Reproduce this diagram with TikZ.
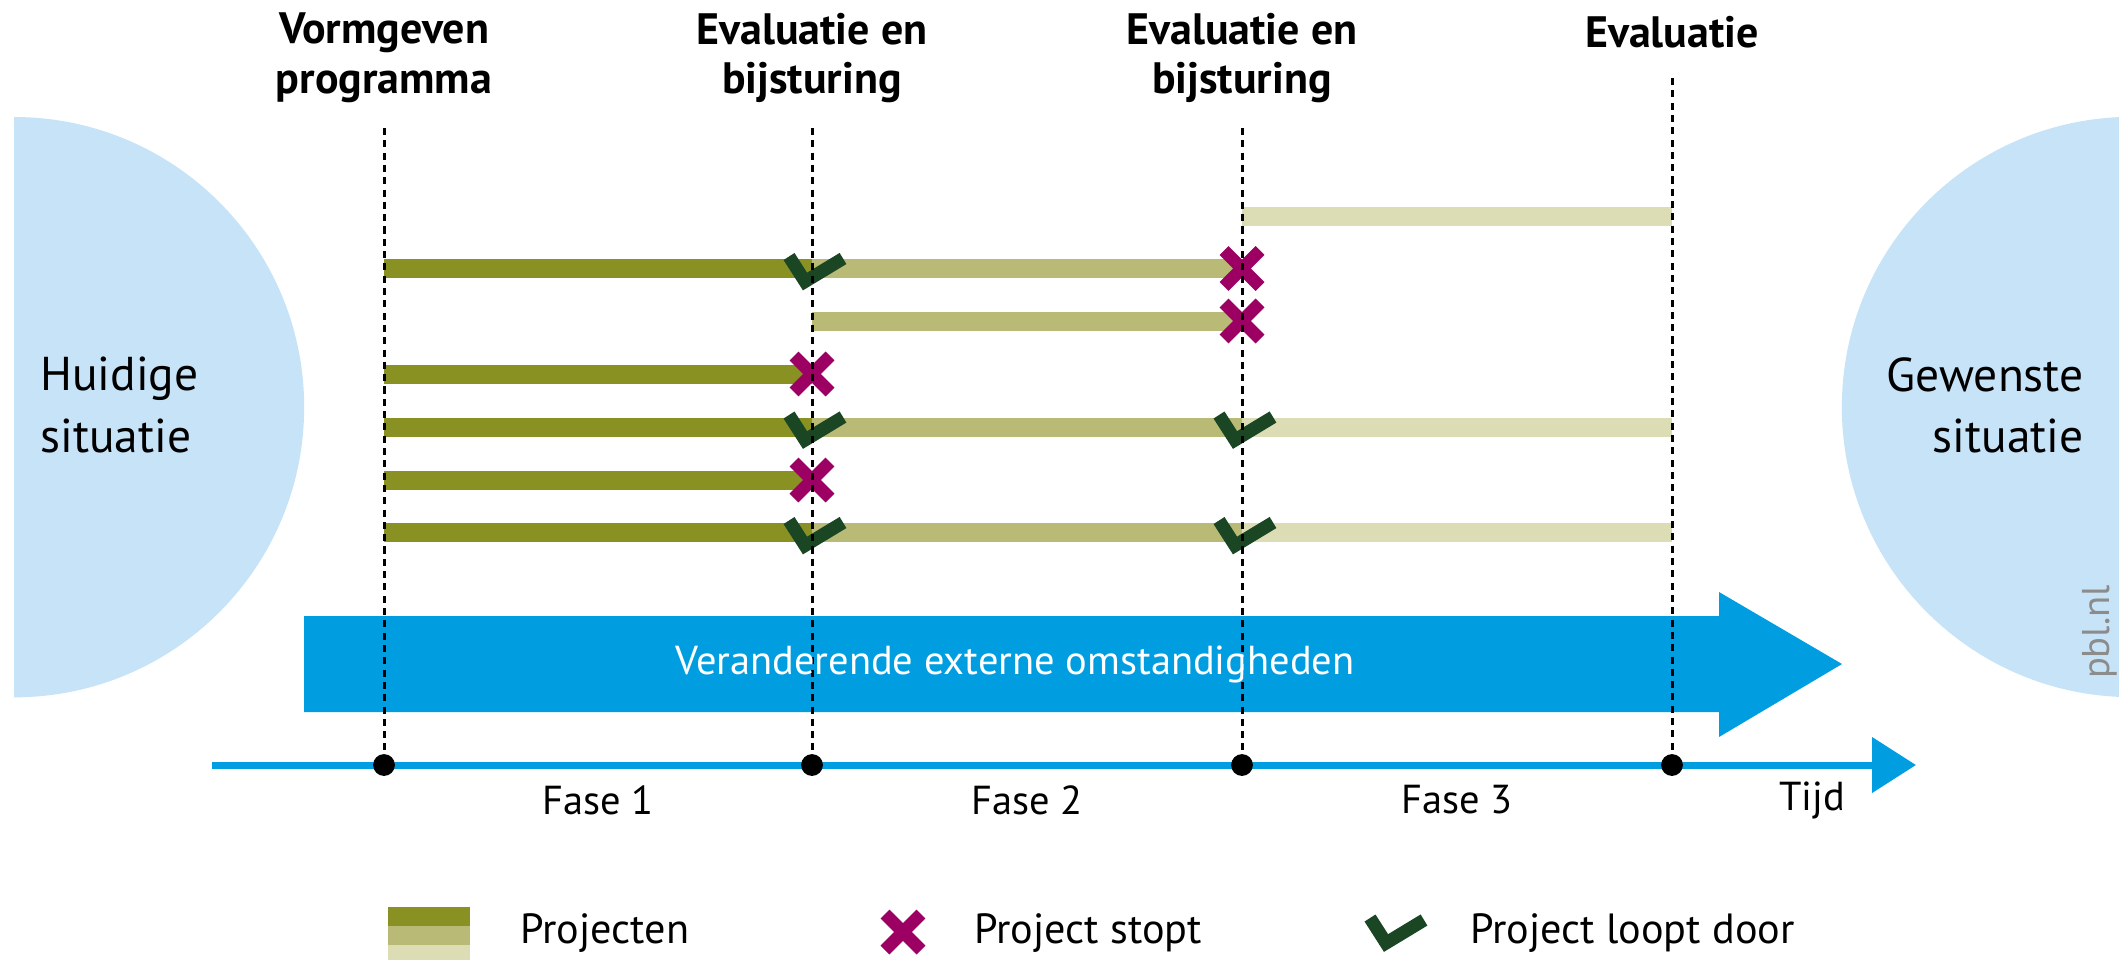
\documentclass[tikz,border=0pt]{standalone}
\usepackage{fontspec}
\setmainfont{PT Sans}
\usetikzlibrary{arrows.meta, positioning, calc}

\definecolor{projdark}{HTML}{8A9123}
\definecolor{projmid}{HTML}{B8BA75}
\definecolor{projlight}{HTML}{DCDDB5}
\definecolor{stopred}{HTML}{9B0062}
\definecolor{goongreen}{HTML}{1B4624}
\definecolor{pblblue}{HTML}{009EE0}
\definecolor{situblue}{HTML}{C7E3F7}

\tikzset{
  bar/.style={line width=5.4pt},
  guide/.style={black, line width=0.85pt, dash pattern=on 2pt off 1.5pt},
  tdot/.style={circle, fill=black, inner sep=0pt, minimum size=6.2pt},
  toplabel/.style={font=\fontsize{12.5}{14.2}\selectfont\bfseries, align=center},
  phase/.style={font=\fontsize{11.5}{13}\selectfont},
  situ/.style={font=\fontsize{13.5}{17.4}\selectfont},
  legend/.style={font=\fontsize{12}{14}\selectfont, anchor=west},
  stopcross/.pic={
    \draw[stopred, line width=3.6pt] (-18,-18) -- (18,18) (-18,18) -- (18,-18);
  },
  goontick/.pic={
    \draw[goongreen, line width=3.7pt, miter limit=4] (-23,-12) -- (-7,13) -- (31,-10);
  }
}

\begin{document}
\begin{tikzpicture}[x=0.01cm, y=-0.01cm]
\useasboundingbox (0,0) rectangle (2119,960);

% Situations (half discs)
\fill[situblue] (14,117) arc[start angle=90, end angle=-90, radius=2.9cm] -- cycle;
\begin{scope}
  \clip (0,0) rectangle (2119,960);
  \fill[situblue] (2132,407) circle[radius=2.9cm];
\end{scope}
\node[situ, align=left, anchor=west] (now) at (28,405) {Huidige\\situatie};
\node[situ, align=right, anchor=east] (goal) at (2096,405) {Gewenste\\situatie};
\node[rotate=90, text=black!45, font=\fontsize{11}{13}\selectfont] (pbl) at (2100,632) {pbl.nl};

% External circumstances
\fill[pblblue] (304,616) -- (1719,616) -- (1719,592) -- (1842,664)
  -- (1719,737) -- (1719,712) -- (304,712) -- cycle;

% Projects
\draw[bar, projlight] (1242,216) -- (1672,216);
\draw[bar, projdark] (384,268.5) -- (812,268.5);
\draw[bar, projmid] (812,268.5) -- (1242,268.5);
\draw[bar, projmid] (812,321) -- (1242,321);
\draw[bar, projdark] (384,374) -- (812,374);
\draw[bar, projdark] (384,427) -- (812,427);
\draw[bar, projmid] (812,427) -- (1242,427);
\draw[bar, projlight] (1242,427) -- (1672,427);
\draw[bar, projdark] (384,480) -- (812,480);
\draw[bar, projdark] (384,532.5) -- (812,532.5);
\draw[bar, projmid] (812,532.5) -- (1242,532.5);
\draw[bar, projlight] (1242,532.5) -- (1672,532.5);

% Decisions
\pic at (812,268.5) {goontick};
\pic at (1242,268.5) {stopcross};
\pic at (1242,321) {stopcross};
\pic at (812,374) {stopcross};
\pic at (812,427) {goontick};
\pic at (1242,427) {goontick};
\pic at (812,480) {stopcross};
\pic at (812,532.5) {goontick};
\pic at (1242,532.5) {goontick};

% Time axis
\coordinate (tstart) at (212,765);
\coordinate (tend) at (1916,765);
\draw[pblblue, line width=2pt, -{Triangle[length=12.5pt, width=15.4pt]}] (tstart) -- (tend);

\node[tdot] (t0) at (384,765) {};
\node[tdot] (t1) at (812,765) {};
\node[tdot] (t2) at (1242,765) {};
\node[tdot] (t3) at (1672,765) {};

% Moments
\coordinate (g0) at (384,128);
\coordinate (g1) at (812,128);
\coordinate (g2) at (1242,128);
\coordinate (g3) at (1672,78);
\draw[guide] (g0) -- (t0);
\draw[guide] (g1) -- (t1);
\draw[guide] (g2) -- (t2);
\draw[guide] (g3) -- (t3);

\node[toplabel] (m0) at (384,58) {Vormgeven\\programma};
\node[toplabel] (m1) at (812,58) {Evaluatie en\\bijsturing};
\node[toplabel] (m2) at (1242,58) {Evaluatie en\\bijsturing};
\node[toplabel, anchor=base] (m3) at (1672,47) {Evaluatie};

\node[text=white, font=\fontsize{11.5}{13}\selectfont] (ext) at (1015,664) {Veranderende externe omstandigheden};

\node[phase] (f1) at (598,800) {Fase 1};
\node[phase] (f2) at (1027,800) {Fase 2};
\node[phase] (f3) at (1457,800) {Fase 3};
\node[phase] (tijd) at (1812,800) {Tijd};

% Legend
\fill[projdark] (388,907) rectangle (470,926);
\fill[projmid] (388,926) rectangle (470,945);
\fill[projlight] (388,945) rectangle (470,960);
\node[legend] (lp) at (508,933) {Projecten};
\pic at (903,932) {stopcross};
\node[legend] (ls) at (962,933) {Project stopt};
\pic at (1393,930) {goontick};
\node[legend] (lg) at (1458,933) {Project loopt door};
\end{tikzpicture}
\end{document}
